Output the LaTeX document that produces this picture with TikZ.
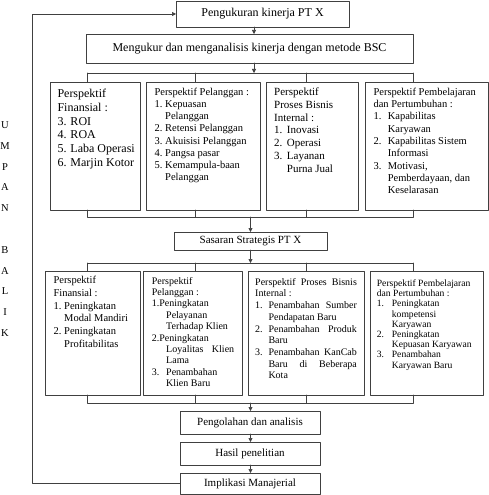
\documentclass[tikz,border=0pt]{standalone}
\usepackage{fontspec}
\setmainfont{Liberation Serif}
\usepackage{tikz}
\usetikzlibrary{arrows.meta}

\newlength\ind
\newcommand{\fs}[2]{\fontsize{#1}{#2}\selectfont}
\newcommand{\nm}[1]{\makebox[\ind][l]{#1}}
\newcommand{\lj}{\hspace*{\ind}}
\newcommand{\rata}[2]{\makebox[#1][s]{#2}}

\begin{document}
\begin{tikzpicture}[line cap=round,line join=round,>={Triangle[length=4pt,width=4pt]},x=1pt,y=-1pt,
  garis/.style={draw=black!75,line width=0.6pt},
  kotak/.style={garis,anchor=north west,inner sep=0pt,outer sep=0pt},
  isi/.style={anchor=north west,inner sep=0pt,align=left},
  geser/.code={\setlength\ind{#1}}]
\useasboundingbox (0,0) rectangle (489,495);

% kotak tengah
\node[kotak,minimum width=173pt,minimum height=26pt,font=\fs{12}{14}] (ukur) at (176,1) {Pengukuran kinerja PT X};
\node[kotak,minimum width=327pt,minimum height=29pt,font=\fs{12}{14}] (bsc) at (86,34) {Mengukur dan menganalisis kinerja dengan metode BSC};
\node[kotak,minimum width=153pt,minimum height=18pt,font=\fs{11}{13}] (sasaran) at (174,232) {Sasaran Strategis PT X};
\node[kotak,minimum width=140pt,minimum height=23pt,font=\fs{11}{13}] (olah) at (180,411) {Pengolahan dan analisis};
\node[kotak,minimum width=140pt,minimum height=23pt,font=\fs{11}{13}] (hasil) at (180,442) {Hasil penelitian};
\node[kotak,minimum width=140pt,minimum height=21pt,font=\fs{11}{13}] (impl) at (180,473) {Implikasi Manajerial};

% perspektif BSC
\node[kotak,minimum width=90pt,minimum height=128pt] (b1) at (50,82) {};
\node[kotak,minimum width=114pt,minimum height=128pt] (b2) at (146,82) {};
\node[kotak,minimum width=92pt,minimum height=128pt] (b3) at (266,82) {};
\node[kotak,minimum width=123pt,minimum height=128pt] (b4) at (365,82) {};

\node[isi,font=\fs{12}{13.8}] (b1t) at ([shift={(7.3,6.9)}]b1.north west)
  {Perspektif\\Finansial :\\3. ROI\\4. ROA\\5. Laba Operasi\\6. Marjin Kotor};
\node[isi,font=\fs{10.5}{12.2},geser=10.7pt] (b2t) at ([shift={(8.3,5.8)}]b2.north west)
  {Perspektif Pelanggan :\\\nm{1.}Kepuasan\\\lj Pelanggan\\\nm{2.}Retensi Pelanggan\\\nm{3.}Akuisisi Pelanggan\\
   \nm{4.}Pangsa pasar\\\nm{5.}Kemampula-baan\\\lj Pelanggan};
\node[isi,font=\fs{11}{12.8},geser=12.7pt] (b3t) at ([shift={(8,5.6)}]b3.north west)
  {Perspektif\\Proses Bisnis\\Internal :\\\nm{1.}Inovasi\\\nm{2.}Operasi\\\nm{3.}Layanan\\\lj Purna Jual};
\node[isi,font=\fs{10.5}{12.3},geser=14.3pt] (b4t) at ([shift={(8.3,5.8)}]b4.north west)
  {Perspektif Pembelajaran\\dan Pertumbuhan :\\\nm{1.}Kapabilitas\\\lj Karyawan\\\nm{2.}Kapabilitas Sistem\\
   \lj Informasi\\\nm{3.}Motivasi,\\\lj Pemberdayaan, dan\\\lj Keselarasan};

% sasaran strategis
\node[kotak,minimum width=95pt,minimum height=124pt] (c1) at (45,271) {};
\node[kotak,minimum width=99.4pt,minimum height=124pt] (c2) at (143.3,271) {};
\node[kotak,minimum width=116.3pt,minimum height=124pt] (c3) at (248,271) {};
\node[kotak,minimum width=113pt,minimum height=124pt] (c4) at (370,271) {};

\node[isi,font=\fs{10.5}{12.7},geser=10.7pt] (c1t) at ([shift={(8.3,5.1)}]c1.north west)
  {Perspektif\\Finansial :\\\nm{1.}Peningkatan\\\lj Modal Mandiri\\\nm{2.}Peningkatan\\\lj Profitabilitas};
\node[isi,font=\fs{10}{11.4},geser=14.3pt] (c2t) at ([shift={(8.4,5.8)}]c2.north west)
  {Perspektif\\Pelanggan :\\1.Peningkatan\\\lj Pelayanan\\\lj Terhadap Klien\\2.Peningkatan\\
   \lj\rata{68pt}{Loyalitas Klien}\\\lj Lama\\\nm{3.}Penambahan\\\lj Klien Baru};
\node[isi,font=\fs{10}{11.7},geser=13.3pt] (c3t) at ([shift={(7,7)}]c3.north west)
  {\rata{101.7pt}{Perspektif Proses Bisnis}\\Internal :\\\nm{1.}\rata{88.4pt}{Penambahan Sumber}\\\lj Pendapatan Baru\\
   \nm{2.}\rata{88.4pt}{Penambahan Produk}\\\lj Baru\\\nm{3.}\rata{88.4pt}{Penambahan KanCab}\\
   \lj\rata{88.4pt}{Baru di Beberapa}\\\lj Kota};
\node[isi,font=\fs{9.6}{10.2},geser=15pt] (c4t) at ([shift={(6.7,8.6)}]c4.north west)
  {Perspektif Pembelajaran\\dan Pertumbuhan :\\\nm{1.}Peningkatan\\\lj kompetensi\\\lj Karyawan\\
   \nm{2.}Peningkatan\\\lj Kepuasan Karyawan\\\nm{3.}Penambahan\\\lj Karyawan Baru};

% umpan balik
\foreach \i/\h in {1/U,2/M,3/P,4/A,5/N,7/B,8/A,9/L,10/I,11/K}
  \node[font=\fs{10.5}{12},inner sep=0pt] (ub\i) at (5,{104.2+20.8*\i}) {\h};

% titik bantu
\coordinate (p1) at (254,0);
\coordinate (p2) at (250.5,0);
\foreach \i/\xx in {1/87.5,2/195.5,3/306,4/413.5}
  \coordinate (t\i) at (\xx,0);
\coordinate (j1) at (0,73);
\coordinate (j2) at (0,217);
\coordinate (j3) at (0,263);
\coordinate (j4) at (0,403);
\coordinate (fb) at (32,0);

% penghubung
\draw[garis,->] (ukur.south -| p1) -- (bsc.north -| p1);
\draw[garis,->] (bsc.south -| p1) -- (j1 -| p1);
\draw[garis] (j1 -| t1) -- (j1 -| t4);
\foreach \i in {1,...,4}
  \draw[garis] (j1 -| t\i) -- (b\i.north -| t\i);
\foreach \i in {1,...,4}
  \draw[garis] (b\i.south -| t\i) -- (j2 -| t\i);
\draw[garis] (j2 -| t1) -- (j2 -| t4);
\draw[garis,->] (j2 -| p2) -- (sasaran.north -| p2);
\draw[garis,->] (sasaran.south -| p2) -- (j3 -| p2);
\draw[garis] (j3 -| t1) -- (j3 -| t4);
\foreach \i in {1,...,4}
  \draw[garis] (j3 -| t\i) -- (c\i.north -| t\i);
\foreach \i in {1,...,4}
  \draw[garis] (c\i.south -| t\i) -- (j4 -| t\i);
\draw[garis] (j4 -| t1) -- (j4 -| t4);
\draw[garis,->] (j4 -| p2) -- (olah.north -| p2);
\draw[garis,->] (olah.south -| p2) -- (hasil.north -| p2);
\draw[garis,->] (hasil.south -| p2) -- (impl.north -| p2);
\draw[garis,->] (impl.west) -- (impl.west -| fb) -- (ukur.west -| fb) -- (ukur.west);
\end{tikzpicture}
\end{document}
